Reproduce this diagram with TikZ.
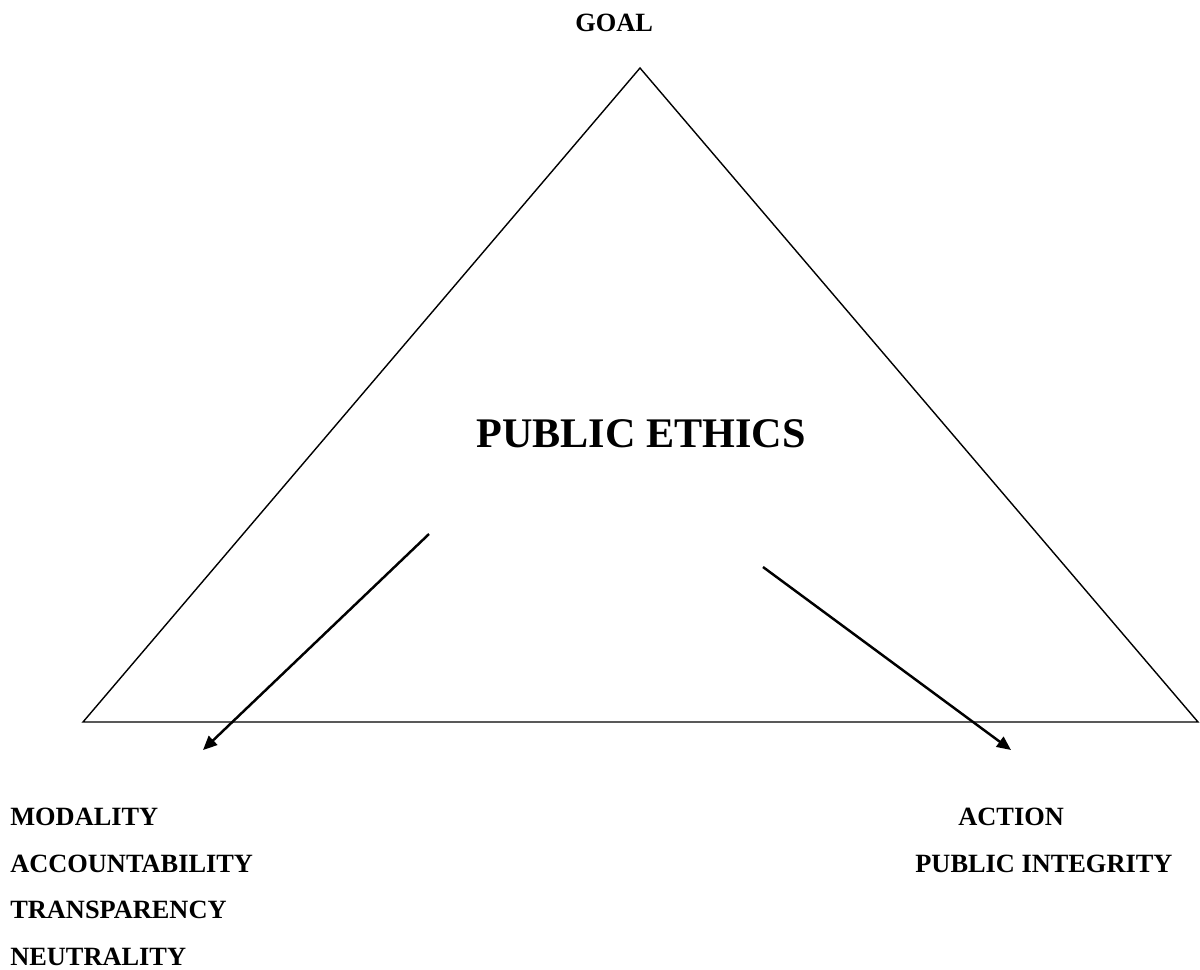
\documentclass[tikz,border=0pt]{standalone}
\usepackage{fontspec}
\setmainfont{Liberation Serif}
\usetikzlibrary{arrows.meta,positioning}

\tikzset{
  lbl/.style={anchor=base west, inner sep=0pt, font=\fontsize{15}{18}\selectfont\bfseries},
  edge/.style={line width=0.8pt},
  pointer/.style={line width=1.4pt, -{Triangle[length=8pt,width=7pt]}}
}

\begin{document}
\begin{tikzpicture}[x=0.2mm, y=-0.2mm]
				\useasboundingbox (0,0) rectangle (1200,969);
				% corners of the triangle
				\coordinate (top) at (640,68);
				\coordinate (left) at (83,722);
				\coordinate (right) at (1198,722);
				\draw[edge] (top) -- (left) -- (right) -- cycle;
				
				\node[lbl] (goal) at (575,31) {GOAL};
				\node[anchor=base, inner sep=0pt, font=\fontsize{24}{28}\selectfont\bfseries] (ethics) at (641,447) {PUBLIC ETHICS};
				
				% arrows out of the base
				\coordinate (ls) at (429,534);
				\coordinate (le) at (203,750);
				\coordinate (rs) at (763,567);
				\coordinate (re) at (1011,750);
				\draw[pointer] (ls) -- (le);
				\draw[pointer] (rs) -- (re);
				
				\node[lbl] (modality) at (10,825) {MODALITY};
				\node[lbl] (account) at (10,872) {ACCOUNTABILITY};
				\node[lbl] (transp) at (10,918) {TRANSPARENCY};
				\node[lbl] (neutral) at (10,965) {NEUTRALITY};
				
				\node[lbl] (action) at (958,825) {ACTION};
				\node[lbl] (integrity) at (915,872) {PUBLIC INTEGRITY};
			\end{tikzpicture}
\end{document}
